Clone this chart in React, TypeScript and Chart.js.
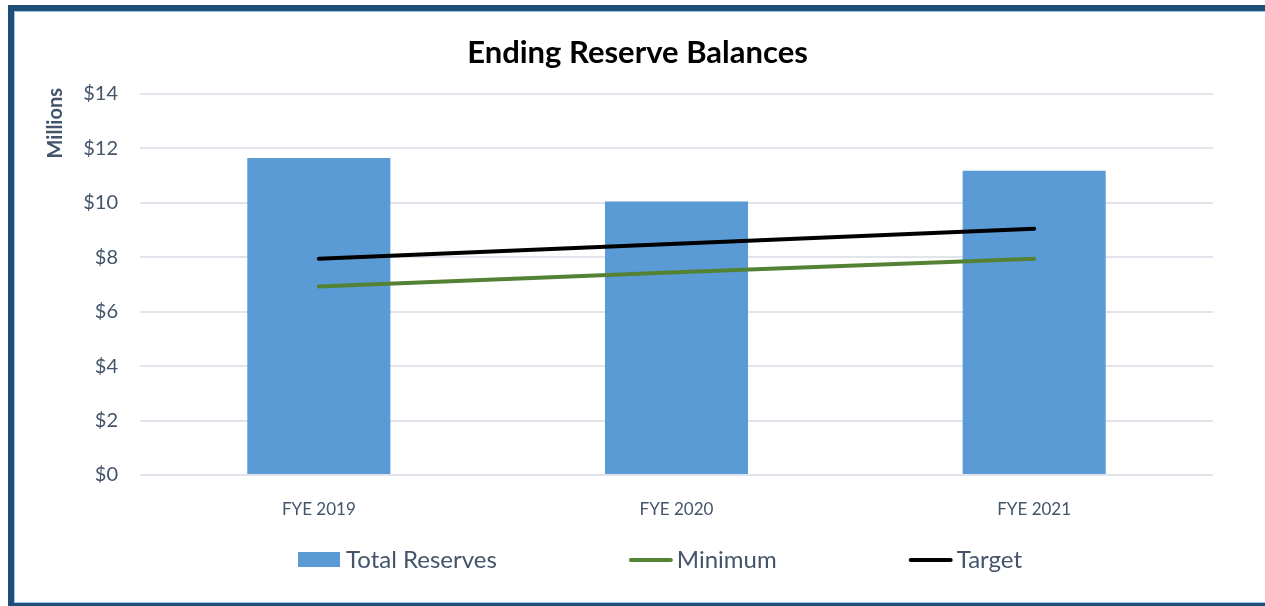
import React, { useEffect, useRef } from 'react';
import { Chart, registerables } from 'chart.js';

Chart.register(...registerables);

// ---- data ----
const categories: string[] = ['FYE 2019', 'FYE 2020', 'FYE 2021'];
const totalReserves: number[] = [11.65, 10.05, 11.18];
const minimum: number[] = [6.93, 7.45, 7.95];
const target: number[] = [7.95, 8.5, 9.05];
const yTickValues: number[] = [0, 2, 4, 6, 8, 10, 12, 14];
const chartTitle = 'Ending Reserve Balances';
const yAxisTitle = 'Millions';

const FONT = 'Lato, "Open Sans", sans-serif';
const TEXT_COLOR = '#44546A';

const titlePlugin = {
  id: 'customTitle',
  afterDraw(chart: any) {
    const ctx = chart.ctx;
    ctx.save();
    ctx.font = `bold 31px ${FONT}`;
    ctx.fillStyle = '#000000';
    ctx.textAlign = 'center';
    ctx.textBaseline = 'alphabetic';
    ctx.fillText(chartTitle, chart.width / 2 + 5, 63);
    ctx.restore();
  },
};

const yTitlePlugin = {
  id: 'customYTitle',
  afterDraw(chart: any) {
    const ctx = chart.ctx;
    ctx.save();
    ctx.font = `bold 20px ${FONT}`;
    ctx.fillStyle = TEXT_COLOR;
    ctx.translate(56, 88);
    ctx.rotate(-Math.PI / 2);
    ctx.textAlign = 'right';
    ctx.textBaseline = 'middle';
    ctx.fillText(yAxisTitle, 0, 0);
    ctx.restore();
  },
};

const legendPlugin = {
  id: 'customLegend',
  afterDraw(chart: any) {
    const ctx = chart.ctx;
    ctx.save();
    ctx.font = `24px ${FONT}`;
    ctx.textBaseline = 'middle';
    ctx.textAlign = 'left';
    const y = 560;
    const swatchW = 44;
    const swatchGap = 4;
    const itemGap = 132;
    const items = chart.data.datasets.map((ds: any) => ({
      label: ds.label,
      kind: ds.type === 'line' ? 'line' : 'bar',
      color: ds.type === 'line' ? ds.borderColor : ds.backgroundColor,
      textW: ctx.measureText(ds.label).width,
    }));
    const total =
      items.reduce((s: number, it: any) => s + swatchW + swatchGap + it.textW, 0) +
      itemGap * (items.length - 1);
    let x = 660 - total / 2;
    items.forEach((it: any) => {
      if (it.kind === 'bar') {
        ctx.fillStyle = it.color;
        ctx.fillRect(x, y - 8, swatchW - 2, 15);
      } else {
        ctx.strokeStyle = it.color;
        ctx.lineWidth = 4;
        ctx.lineCap = 'round';
        ctx.beginPath();
        ctx.moveTo(x + 2, y);
        ctx.lineTo(x + swatchW - 2, y);
        ctx.stroke();
      }
      ctx.fillStyle = TEXT_COLOR;
      ctx.fillText(it.label, x + swatchW + swatchGap, y);
      x += swatchW + swatchGap + it.textW + itemGap;
    });
    ctx.restore();
  },
};

export default function App() {
  const canvasRef = useRef<HTMLCanvasElement | null>(null);

  useEffect(() => {
    if (!canvasRef.current) return;
    const chart = new Chart(canvasRef.current, {
      type: 'bar',
      data: {
        labels: categories,
        datasets: [
          {
            type: 'bar',
            label: 'Total Reserves',
            data: totalReserves,
            backgroundColor: '#5B9BD5',
            borderWidth: 0,
            barPercentage: 1,
            categoryPercentage: 0.4,
            order: 3,
          } as any,
          {
            type: 'line',
            label: 'Minimum',
            data: minimum,
            borderColor: '#548235',
            backgroundColor: '#548235',
            borderWidth: 4,
            borderCapStyle: 'round',
            pointRadius: 0,
            tension: 0,
            order: 2,
          } as any,
          {
            type: 'line',
            label: 'Target',
            data: target,
            borderColor: '#000000',
            backgroundColor: '#000000',
            borderWidth: 4,
            borderCapStyle: 'round',
            pointRadius: 0,
            tension: 0,
            order: 1,
          } as any,
        ],
      },
      options: {
        animation: false,
        responsive: true,
        maintainAspectRatio: false,
        layout: { padding: { top: 94, right: 52, bottom: 90, left: 0 } },
        plugins: {
          legend: { display: false },
          title: { display: false },
          tooltip: { enabled: false },
        },
        scales: {
          x: {
            grid: { display: false },
            border: { display: false },
            ticks: {
              color: TEXT_COLOR,
              font: { family: FONT, size: 17 },
              padding: 16,
            },
            afterFit(scale: any) {
              scale.height = 41;
            },
          },
          y: {
            min: 0,
            max: 14,
            afterBuildTicks(scale: any) {
              scale.ticks = yTickValues.map((v) => ({ value: v }));
            },
            grid: { color: '#E1E5EB', lineWidth: 2, drawTicks: false },
            border: { display: false },
            ticks: {
              color: TEXT_COLOR,
              font: { family: FONT, size: 20 },
              padding: 22,
              callback: (v: any) => '$' + v,
            },
            afterFit(scale: any) {
              scale.width = 140;
            },
          },
        },
      },
      plugins: [titlePlugin, yTitlePlugin, legendPlugin],
    });
    return () => chart.destroy();
  }, []);

  return (
    <>
      <div
        style={{
          position: 'fixed',
          left: 8,
          top: 5,
          width: 1300,
          height: 604,
          boxSizing: 'border-box',
          border: '6px solid #1F4E79',
          boxShadow: 'inset 0 0 0 1px #9DC3E6',
          background: '#FFFFFF',
        }}
      />
      <div style={{ position: 'fixed', left: 0, top: 0, width: 1265, height: 606 }}>
        <canvas ref={canvasRef} style={{ display: 'block' }} />
      </div>
    </>
  );
}
